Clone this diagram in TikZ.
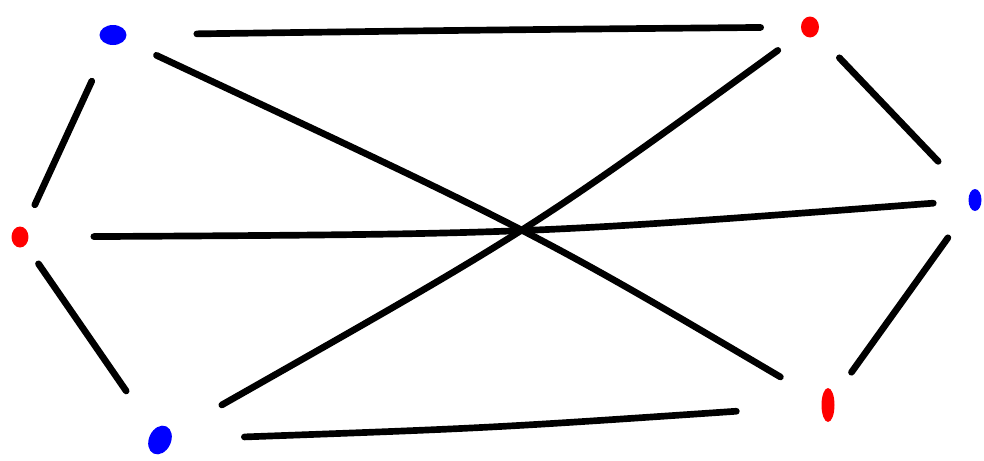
\documentclass[tikz,border=0pt]{standalone}
\usetikzlibrary{calc,shapes.geometric}

\tikzset{
  vtx/.style={ellipse,inner sep=0pt},
  bluedot/.style={vtx,fill=blue},
  reddot/.style={vtx,fill=red},
  edge/.style={line width=3.8pt,black,line cap=round,line join=round}
}

\begin{document}
\begin{tikzpicture}[x=0.02cm,y=-0.02cm]
\useasboundingbox (0,0) rectangle (984,460);

% Vertices of the hexagon-like graph
\node[bluedot,minimum width=0.54cm,minimum height=0.4cm] (A) at (113,35) {};
\node[reddot,minimum width=0.36cm,minimum height=0.42cm] (B) at (810,27) {};
\node[bluedot,minimum width=0.26cm,minimum height=0.44cm] (C) at (975,200) {};
\node[reddot,minimum width=0.34cm,minimum height=0.42cm] (D) at (20,237) {};
\node[reddot,minimum width=0.26cm,minimum height=0.68cm] (E) at (828,405) {};
\node[bluedot,minimum width=0.44cm,minimum height=0.6cm,rotate=-25] (F) at (160,440) {};

% Where the three long edges cross, and their control points
\coordinate (X) at (522,230);
\coordinate (AEc) at (536,233);
\coordinate (BFc) at (532,229);
\coordinate (DCc) at (528,234);
\coordinate (ABc) at (480,30);
\coordinate (FEc) at (490,428);

% Outer edges
\draw[edge,shorten <=1.4cm,shorten >=0.8cm] (A) .. controls (ABc) .. (B);
\draw[edge,shorten <=0.8cm,shorten >=0.5cm] (A) -- (D);
\draw[edge,shorten <=0.65cm,shorten >=0.9cm] (B) -- (C);
\draw[edge,shorten <=0.45cm,shorten >=0.95cm] (D) -- (F);
\draw[edge,shorten <=0.75cm,shorten >=0.6cm] (C) -- (E);
\draw[edge,shorten <=1.45cm,shorten >=1.7cm] (F) .. controls (FEc) .. (E);

% Crossing edges through the middle
\draw[edge,shorten <=0.7cm,shorten >=0.95cm] (A) .. controls (AEc) .. (E);
\draw[edge,shorten <=0.6cm,shorten >=1.15cm] (B) .. controls (BFc) .. (F);
\draw[edge,shorten <=1.3cm,shorten >=0.7cm] (D) .. controls (DCc) .. (C);
\end{tikzpicture}
\end{document}
